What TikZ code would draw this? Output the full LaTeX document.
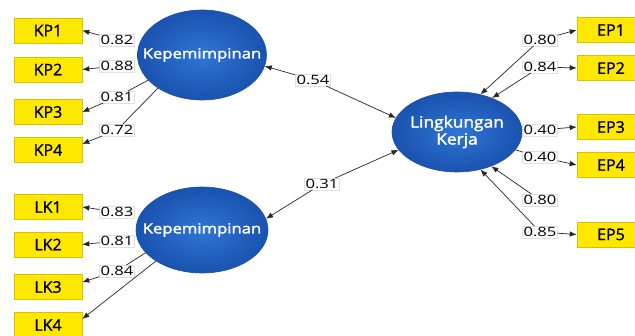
\documentclass[tikz,border=0pt]{standalone}
\usepackage{fontspec}
\setmainfont{Open Sans}[FakeStretch=1.3]
\newfontfamily\semib{Open Sans}[FakeStretch=1.0,FakeBold=1.2]
\newfontfamily\latfont{Open Sans}[FakeStretch=1.19,FakeBold=2]
\newfontfamily\latfontL{Open Sans}[FakeStretch=1.12,FakeBold=2]
\usetikzlibrary{arrows.meta,shapes.geometric}
\definecolor{boxyellow}{RGB}{255,232,0}
\definecolor{boxedge}{RGB}{215,195,0}
\definecolor{blueIn}{RGB}{48,118,212}
\definecolor{blueOut}{RGB}{26,82,175}
\newcommand{\zw}[1]{\makebox[0pt]{#1}}
\begin{document}
\begin{tikzpicture}[x=1pt,y=-1pt,
  ind/.style={rectangle,fill=boxyellow,draw=boxedge,line width=0.6pt,minimum width=68pt,minimum height=25pt,inner sep=0pt,font=\semib\fontsize{16}{16}\selectfont},
  lat/.style={ellipse,inner color=blueIn,outer color=blueOut,draw=blueOut,line width=0.6pt,inner sep=0pt,text=white,align=center,font=\latfont\fontsize{14}{16}\selectfont},
  val/.style={rectangle,fill=white,draw=black!12,line width=0.4pt,inner sep=1pt,font=\fontsize{12.8}{12.8}\selectfont},
  con/.style={draw=black!85,line width=0.7pt},
  arr/.style={con,-{Latex[length=7pt,width=5.5pt]}}
]
\useasboundingbox (0,0) rectangle (635,336);
\fill[white] (0,0) rectangle (635,336);
\clip (0,0) rectangle (635,336);

% latent variables
\node[lat,minimum width=129pt,minimum height=90pt] (K1) at (202,55) {\zw{Kepemimpinan}};
\node[lat,minimum width=132pt,minimum height=86pt] (K2) at (202,230) {\zw{Kepemimpinan}};
\node[lat,minimum width=130pt,minimum height=80pt,font=\latfontL\fontsize{15.5}{17}\selectfont] (L) at (457,132) {\zw{Lingkungan}\\\zw{Kerja}};

% indicators
\node[ind] (kp1) at (48,30.5) {KP1};
\node[ind] (kp2) at (48,69.5) {KP2};
\node[ind] (kp3) at (48,112) {KP3};
\node[ind] (kp4) at (48,150) {KP4};
\node[ind] (lk1) at (48,207) {LK1};
\node[ind] (lk2) at (48,244.5) {LK2};
\node[ind] (lk3) at (48,287) {LK3};
\node[ind] (lk4) at (48,325) {LK4};
\node[ind] (ep1) at (611,30) {EP1};
\node[ind] (ep2) at (611,68) {EP2};
\node[ind] (ep3) at (611,127) {EP3};
\node[ind] (ep4) at (611,165) {EP4};
\node[ind] (ep5) at (611,234.5) {EP5};

% coefficient labels
\node[val] (v82) at (117,40) {0.82};
\node[val] (v88) at (117,66) {0.88};
\node[val] (v81) at (117,97) {0.81};
\node[val] (v72) at (117,130) {0.72};
\node[val] (v83) at (117,212) {0.83};
\node[val] (v81b) at (117,241) {0.81};
\node[val] (v84) at (117,271) {0.84};
\node[val] (v54) at (313,80) {0.54};
\node[val] (v31) at (322,184) {0.31};
\node[val] (e80) at (540,40) {0.80};
\node[val] (e84) at (540,67) {0.84};
\node[val] (e40) at (540,130) {0.40};
\node[val] (e40b) at (540,157) {0.40};
\node[val] (e80b) at (540,200) {0.80};
\node[val] (e85) at (540,232) {0.85};

% left top
\draw[arr] (v82) -- (kp1.east);
\draw[arr] (v88) -- (kp2.east);
\draw[con] (K1.205) -- (v81);
\draw[arr] (v81) -- (kp3.east);
\draw[con] (K1.217) -- (v72);
\draw[arr] (v72) -- (kp4.10);
% left bottom
\draw[arr] (v83) -- (lk1.east);
\draw[arr] (v81b) -- (lk2.east);
\draw[con] (K2.202) -- (v84);
\draw[arr] (v84) -- (lk3.8);
\draw[arr] (K2.214) -- (lk4.10);
% structural
\draw[arr] (v54) -- (K1.-10);
\draw[arr] (v54) -- (L.167);
\draw[arr] (v31) -- (K2.10);
\draw[arr] (v31) -- (L.197);
% right
\draw[arr] (e80) -- (ep1.west);
\draw[arr] (e80) -- (L.58);
\draw[arr] (e84) -- (ep2.west);
\draw[arr] (e84) -- (L.44);
\draw[con] (L.2) -- (e40);
\draw[arr] (e40) -- (ep3.west);
\draw[con] (L.-17) -- (e40b);
\draw[arr] (e40b) -- (ep4.west);
\draw[arr] (e80b) -- (L.-45);
\draw[arr] (e85) -- (ep5.west);
\draw[arr] (e85) -- (L.-58);
\end{tikzpicture}
\end{document}
